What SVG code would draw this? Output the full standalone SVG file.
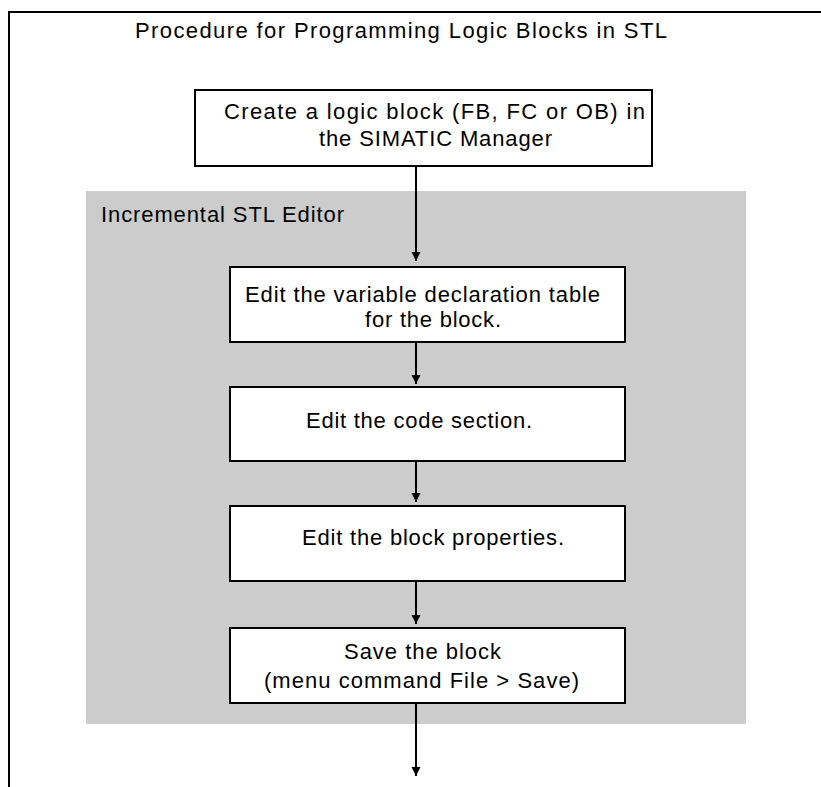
<svg xmlns="http://www.w3.org/2000/svg" width="821" height="787" viewBox="0 0 821 787">
<style>
  text { font-family: "Liberation Sans", Arial, sans-serif; font-size: 22px; fill: #000; }
  .box { fill: #fff; stroke: #000; stroke-width: 2; }
  .conn { stroke: #000; stroke-width: 2; fill: none; }
</style>
<defs>
  <marker id="arr" markerUnits="userSpaceOnUse" markerWidth="10" markerHeight="10" refX="9" refY="5" orient="auto">
    <path d="M0,0.5 L9,5 L0,9.5 z" fill="#000"/>
  </marker>
</defs>
<rect width="821" height="787" fill="#fff"/>
<path d="M9,787 V12 H821" fill="none" stroke="#000" stroke-width="2"/>
<text id="title" x="135" y="38" textLength="532" lengthAdjust="spacing">Procedure for Programming Logic Blocks in STL</text>
<g id="editor">
  <rect x="86" y="191" width="660" height="533" fill="#cccccc"/>
  <text x="101" y="222" textLength="243" lengthAdjust="spacing">Incremental STL Editor</text>
</g>
<g id="connectors">
  <line class="conn" x1="416" y1="166" x2="416" y2="261" marker-end="url(#arr)"/>
  <line class="conn" x1="416" y1="342" x2="416" y2="384" marker-end="url(#arr)"/>
  <line class="conn" x1="416" y1="461" x2="416" y2="502" marker-end="url(#arr)"/>
  <line class="conn" x1="416" y1="581" x2="416" y2="624" marker-end="url(#arr)"/>
  <line class="conn" x1="416" y1="703" x2="416" y2="776" marker-end="url(#arr)"/>
</g>
<g id="n1">
  <rect class="box" x="195" y="90" width="457" height="76"/>
  <text x="224" y="119" textLength="421" lengthAdjust="spacing">Create a logic block (FB, FC or OB) in</text>
  <text x="319" y="146" textLength="233" lengthAdjust="spacing">the SIMATIC Manager</text>
</g>
<g id="n2">
  <rect class="box" x="230" y="267" width="395" height="75"/>
  <text x="245" y="302" textLength="355" lengthAdjust="spacing">Edit the variable declaration table</text>
  <text x="365" y="327" textLength="136" lengthAdjust="spacing">for the block.</text>
</g>
<g id="n3">
  <rect class="box" x="230" y="387" width="395" height="74"/>
  <text x="306" y="428" textLength="226" lengthAdjust="spacing">Edit the code section.</text>
</g>
<g id="n4">
  <rect class="box" x="230" y="506" width="395" height="75"/>
  <text x="302" y="545" textLength="262" lengthAdjust="spacing">Edit the block properties.</text>
</g>
<g id="n5">
  <rect class="box" x="230" y="628" width="395" height="75"/>
  <text x="344" y="659" textLength="157" lengthAdjust="spacing">Save the block</text>
  <text x="264" y="688" textLength="315" lengthAdjust="spacing">(menu command File &gt; Save)</text>
</g>
</svg>
